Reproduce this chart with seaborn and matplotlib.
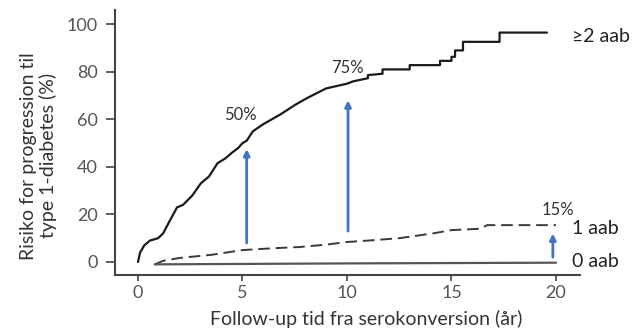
import matplotlib
matplotlib.use("Agg")
import matplotlib.pyplot as plt
import seaborn as sns
import pandas as pd

# ---- data ----
t_2aab = [0.0, 0.05, 0.1, 0.3, 0.57, 0.96, 1.2, 1.5, 1.87, 2.15, 2.6, 3.0, 3.4, 3.8, 4.2, 4.5, 4.8, 5.0, 5.2,
          5.5, 6.0, 6.8, 7.5, 8.1, 9.0, 10.0, 10.3, 11.0, 11.0, 11.7, 11.7, 13.0, 13.0, 14.45, 14.45,
          15.0, 15.0, 15.17, 15.17, 15.55, 15.55, 17.3, 17.3, 19.57]
r_2aab = [0.0, 2.0, 4.0, 7.0, 9.0, 10.0, 12.0, 17.0, 23.0, 24.0, 28.0, 33.0, 36.0, 41.5, 43.7, 46.0, 48.0, 50.0, 51.0,
          55.0, 58.0, 62.0, 66.0, 69.0, 73.0, 75.0, 76.0, 77.3, 78.6, 79.2, 81.0, 81.0, 82.8, 82.8, 84.6,
          84.6, 86.3, 86.3, 89.0, 89.0, 92.6, 92.6, 96.5, 96.5]

t_1aab = [0.8, 1.2, 2.0, 3.5, 5.0, 6.5, 7.75, 9.0, 10.0, 11.0, 12.5, 14.1, 15.0, 16.4, 16.7, 20.0]
r_1aab = [-1.0, 0.5, 1.7, 3.0, 5.0, 5.8, 6.3, 7.3, 8.4, 9.0, 10.0, 12.0, 13.4, 14.0, 15.5, 15.5]

t_0aab = [0.8, 10.0, 20.0]
r_0aab = [-1.0, -0.6, -0.3]

arrow_x = [5.2, 10.05, 19.85]
arrow_from = [8.0, 13.0, 2.0]
arrow_to = [47.5, 68.0, 12.0]

pct_labels = ["50%", "75%", "15%"]
pct_x = [4.9, 10.0, 20.1]
pct_y = [62.0, 81.5, 22.0]

group_labels = ["\u22652 aab", "1 aab", "0 aab"]
group_y = [95.0, 14.0, 0.0]

xticks = [0, 5, 10, 15, 20]
yticks = [0, 20, 40, 60, 80, 100]

sns.set_theme(style="ticks")
plt.rcParams["font.family"] = ["Lato", "DejaVu Sans"]

fig = plt.figure(figsize=(6.33, 3.33), dpi=100)
ax = fig.add_axes([0.1817, 0.174, 0.7346, 0.796])

df2 = pd.DataFrame({"t": t_2aab, "r": r_2aab})
df1 = pd.DataFrame({"t": t_1aab, "r": r_1aab})
df0 = pd.DataFrame({"t": t_0aab, "r": r_0aab})

sns.lineplot(data=df2, x="t", y="r", ax=ax, color="#1a1a1a", lw=1.6, sort=False, estimator=None)
sns.lineplot(data=df1, x="t", y="r", ax=ax, color="#3a3a3a", lw=1.4, sort=False, estimator=None,
             linestyle=(0, (6, 3)))
sns.lineplot(data=df0, x="t", y="r", ax=ax, color="#555555", lw=1.6, estimator=None)

for x, y0, y1 in zip(arrow_x, arrow_from, arrow_to):
    ax.annotate("", xy=(x, y1), xytext=(x, y0),
                arrowprops=dict(arrowstyle="-|>", color="#4472C4", lw=2.0,
                                mutation_scale=9, shrinkA=0, shrinkB=0))

for s, x, y in zip(pct_labels, pct_x, pct_y):
    ax.text(x, y, s, ha="center", va="center", fontsize=12, color="#333333")

for s, y in zip(group_labels, group_y):
    ax.text(20.75, y, s, ha="left", va="center", fontsize=14, color="#222222", clip_on=False)

ax.set_xlim(-1.1, 21.15)
ax.set_ylim(-5.5, 106)
ax.set_xticks(xticks)
ax.set_yticks(yticks)
ax.tick_params(axis="both", labelsize=13, colors="#444444", labelcolor="#555555",
               width=1.2, direction="out")
ax.tick_params(axis="x", length=4, pad=3)
ax.tick_params(axis="y", length=6.5, pad=6)
for side in ["top", "right"]:
    ax.spines[side].set_visible(False)
for side in ["left", "bottom"]:
    ax.spines[side].set_color("#444444")
    ax.spines[side].set_linewidth(1.5)

ax.set_xlabel("Follow-up tid fra serokonversion (år)", fontsize=14, color="#333333")
ax.xaxis.set_label_coords(0.54, -0.13)
ax.set_ylabel("Risiko for progression til\ntype 1-diabetes (%)", fontsize=14, color="#333333",
              linespacing=1.1)
ax.yaxis.set_label_coords(-0.125, 0.45)

fig.savefig("out.png", dpi=100)
